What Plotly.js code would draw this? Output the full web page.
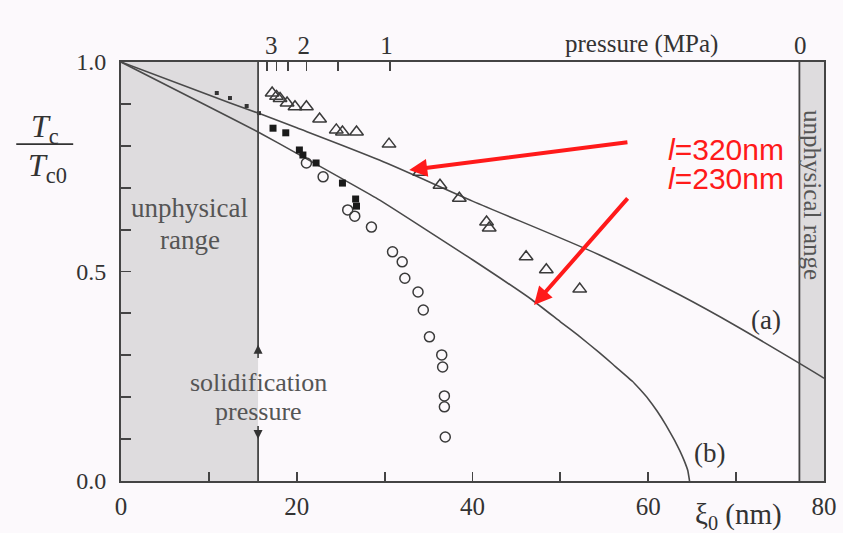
<!DOCTYPE html>
<html>
<head>
<meta charset="utf-8">
<script src="https://cdn.plot.ly/plotly-3.0.1.min.js"></script>
<style>html,body{margin:0;padding:0;background:#fcf9fc;}#chart{width:843px;height:533px;}</style>
</head>
<body>
<div id="chart"></div>
<script>
// ---- data ----
var curveA_x = [0, 10, 15.6, 20, 29.4, 40, 54.4, 63.5, 70, 79.8, 80];
var curveA_y = [1, 0.921, 0.878, 0.843, 0.766, 0.668, 0.54, 0.445, 0.37, 0.248, 0.245];
var curveB_x = [0, 10, 15.6, 20, 29.4, 40, 46.8, 50, 52, 54.4, 56, 58.2, 59, 60, 61, 62, 63, 63.6, 64.1, 64.5, 64.7];
var curveB_y = [1, 0.893, 0.833, 0.782, 0.671, 0.528, 0.432, 0.38, 0.348, 0.307, 0.278, 0.238, 0.220, 0.196, 0.167, 0.134, 0.097, 0.072, 0.048, 0.025, 0];

var tri_x = [17.2, 17.7, 18.1, 18.9, 19.8, 21.1, 22.6, 24.5, 25.2, 26.8, 30.5, 34.0, 36.3, 38.5, 41.6, 41.9, 46.1, 48.4, 52.2];
var tri_y = [0.926, 0.918, 0.913, 0.902, 0.893, 0.893, 0.864, 0.838, 0.833, 0.833, 0.804, 0.737, 0.706, 0.675, 0.618, 0.604, 0.535, 0.504, 0.458];

var circ_x = [21.1, 23.0, 25.8, 26.6, 28.5, 30.9, 32.0, 32.3, 33.8, 34.4, 35.1, 36.5, 36.6, 36.8, 36.8, 36.9];
var circ_y = [0.759, 0.726, 0.647, 0.632, 0.606, 0.547, 0.523, 0.484, 0.451, 0.408, 0.344, 0.301, 0.272, 0.203, 0.177, 0.105];

var sq_x = [17.3, 18.75, 20.3, 20.7, 22.2, 25.2, 26.7, 26.8];
var sq_y = [0.842, 0.831, 0.790, 0.778, 0.759, 0.711, 0.673, 0.656];

var dot_x = [10.9, 12.4, 14.3, 15.7];
var dot_y = [0.926, 0.914, 0.895, 0.878];

var xTickVals = [0, 20, 40, 60, 80];
var yTickVals = [0, 0.5, 1];
var yTickText = ["0.0", "0.5", "1.0"];
var pressureLabels = ["3", "2", "1", "0"];
var pressureLabelPos = [17.1, 20.8, 30.2, 77.3];
var pressureTickPos = [16.6, 17.7, 19.0, 21.1, 24.7, 30.6];

var unphysLeft = [0, 15.6];
var unphysRight = [77.2, 80];
var solidGap = [0.12, 0.31];

var SERIF = "Liberation Serif, DejaVu Serif, serif";
var SANS = "Liberation Sans, Arial, sans-serif";

var traces = [
  {x: curveA_x, y: curveA_y, mode: "lines", line: {color: "#4a4a4a", width: 1.6, shape: "spline", smoothing: 0.8}, hoverinfo: "skip"},
  {x: curveB_x, y: curveB_y, mode: "lines", line: {color: "#4a4a4a", width: 1.6, shape: "spline", smoothing: 0.3}, hoverinfo: "skip"},
  {x: tri_x, y: tri_y, mode: "markers", marker: {symbol: "triangle-up-open", size: 12, color: "#3a3a3a", line: {width: 1.5}}},
  {x: circ_x, y: circ_y, mode: "markers", marker: {symbol: "circle-open", size: 10, color: "#3a3a3a", line: {width: 1.5}}},
  {x: sq_x, y: sq_y, mode: "markers", marker: {symbol: "square", size: 7, color: "#1a1a1a"}},
  {x: dot_x, y: dot_y, mode: "markers", marker: {symbol: "square", size: 4, color: "#333"}},
  {x: [0, 80], y: [0, 0], xaxis: "x2", mode: "markers", marker: {opacity: 0}, hoverinfo: "skip"},
  {x: [0, 80], y: [0, 0], xaxis: "x3", mode: "markers", marker: {opacity: 0}, hoverinfo: "skip"}
];

var shapes = [
  {type: "rect", xref: "x", yref: "y", x0: unphysLeft[0], x1: unphysLeft[1], y0: 0, y1: 1, fillcolor: "#dedcde", line: {width: 0}, layer: "below"},
  {type: "line", xref: "x", yref: "y", x0: unphysLeft[1], x1: unphysLeft[1], y0: solidGap[1], y1: 1, line: {color: "#444", width: 1.8}},
  {type: "line", xref: "x", yref: "y", x0: unphysLeft[1], x1: unphysLeft[1], y0: 0, y1: solidGap[0], line: {color: "#444", width: 1.8}},
  {type: "rect", xref: "x", yref: "y", x0: unphysRight[0], x1: unphysRight[1], y0: 0, y1: 1, fillcolor: "#dedcde", line: {width: 0}, layer: "below"},
  {type: "line", xref: "x", yref: "y", x0: unphysRight[0], x1: unphysRight[0], y0: 0, y1: 1, line: {color: "#444", width: 1.8}},
  {type: "line", xref: "paper", yref: "paper", x0: -0.149, x1: -0.068, y0: 0.804, y1: 0.804, line: {color: "#333", width: 1.6}}
];

var annotations = [
  {x: -0.108, xref: "paper", y: 0.842, yref: "paper", xanchor: "center", yanchor: "middle", text: "<i>T</i><sub>c</sub>", showarrow: false, font: {family: SERIF, size: 32, color: "#333"}},
  {x: -0.105, xref: "paper", y: 0.749, yref: "paper", xanchor: "center", yanchor: "middle", text: "<i>T</i><sub>c0</sub>", showarrow: false, font: {family: SERIF, size: 32, color: "#333"}},
  {x: 7.8, y: 0.652, text: "unphysical", showarrow: false, font: {family: SERIF, size: 27, color: "#555"}},
  {x: 7.8, y: 0.575, text: "range", showarrow: false, font: {family: SERIF, size: 27, color: "#555"}},
  {x: 15.6, y: 0.234, text: "solidification", showarrow: false, font: {family: SERIF, size: 26, color: "#555"}},
  {x: 15.6, y: 0.167, text: "pressure", showarrow: false, font: {family: SERIF, size: 26, color: "#555"}},
  {x: 15.6, y: 0.325, ax: 15.6, ay: 0.29, axref: "x", ayref: "y", text: "", showarrow: true, arrowhead: 2, arrowsize: 1.2, arrowwidth: 1.5, arrowcolor: "#333"},
  {x: 15.6, y: 0.10, ax: 15.6, ay: 0.135, axref: "x", ayref: "y", text: "", showarrow: true, arrowhead: 2, arrowsize: 1.2, arrowwidth: 1.5, arrowcolor: "#333"},
  {x: 78.6, y: 0.683, text: "unphysical range", textangle: 90, showarrow: false, font: {family: SERIF, size: 25, color: "#555"}},
  {x: 73.4, y: 0.384, text: "(a)", showarrow: false, font: {family: SERIF, size: 27, color: "#333"}},
  {x: 67.0, y: 0.067, text: "(b)", showarrow: false, font: {family: SERIF, size: 27, color: "#333"}},
  {x: 0.741, xref: "paper", y: 1.043, yref: "paper", xanchor: "center", yanchor: "middle", text: "pressure (MPa)", showarrow: false, font: {family: SERIF, size: 25, color: "#333"}},
  {x: 0.878, xref: "paper", y: -0.083, yref: "paper", xanchor: "center", yanchor: "middle", text: "ξ<sub>0</sub> (nm)", showarrow: false, font: {family: SERIF, size: 29, color: "#333"}},
  {x: 32.8, y: 0.742, ax: 57.8, ay: 0.809, axref: "x", ayref: "y", text: "", showarrow: true, arrowhead: 2, arrowsize: 0.9, arrowwidth: 4, arrowcolor: "#ff1a1a"},
  {x: 47.0, y: 0.42, ax: 57.8, ay: 0.678, axref: "x", ayref: "y", text: "", showarrow: true, arrowhead: 2, arrowsize: 0.9, arrowwidth: 4, arrowcolor: "#ff1a1a"},
  {x: 62.0, y: 0.79, xanchor: "left", text: "<i>l</i>=320nm", showarrow: false, font: {family: SANS, size: 30, color: "#ff1a1a"}},
  {x: 62.0, y: 0.723, xanchor: "left", text: "<i>l</i>=230nm", showarrow: false, font: {family: SANS, size: 30, color: "#ff1a1a"}}
];

var layout = {
  width: 843, height: 533,
  margin: {l: 121, r: 19, t: 62, b: 52},
  paper_bgcolor: "#fcf9fc", plot_bgcolor: "#fcf9fc",
  showlegend: false,
  xaxis: {range: [0, 80], tickvals: xTickVals, ticks: "inside", ticklen: 9, tickwidth: 1.8, tickcolor: "#444",
          minor: {dtick: 10, ticks: "inside", ticklen: 9, tickwidth: 1.8, tickcolor: "#444"},
          showline: true, linecolor: "#444", linewidth: 2, mirror: true, showgrid: false, zeroline: false,
          ticklabelstandoff: 2, tickfont: {family: SERIF, size: 25, color: "#333"}},
  xaxis2: {range: [0, 80], overlaying: "x", side: "top", anchor: "y", tickvals: pressureLabelPos, ticktext: pressureLabels,
           ticks: "", showgrid: false, zeroline: false, showline: false, ticklabelstandoff: 2,
           tickfont: {family: SERIF, size: 25, color: "#333"}},
  xaxis3: {range: [0, 80], overlaying: "x", side: "top", anchor: "y", tickvals: pressureTickPos, showticklabels: false,
           ticks: "inside", ticklen: 9, tickwidth: 1.6, tickcolor: "#444", showgrid: false, zeroline: false, showline: false},
  yaxis: {range: [0, 1], tickvals: yTickVals, ticktext: yTickText, ticks: "inside", ticklen: 10, tickwidth: 1.8, tickcolor: "#444",
          minor: {dtick: 0.1, ticks: "inside", ticklen: 10, tickwidth: 1.8, tickcolor: "#444"},
          showline: true, linecolor: "#444", linewidth: 2, mirror: true, showgrid: false, zeroline: false,
          ticklabelstandoff: 8, tickfont: {family: SERIF, size: 24, color: "#333"}},
  shapes: shapes,
  annotations: annotations
};

Plotly.newPlot("chart", traces, layout, {staticPlot: true, displayModeBar: false});
</script>
</body>
</html>
